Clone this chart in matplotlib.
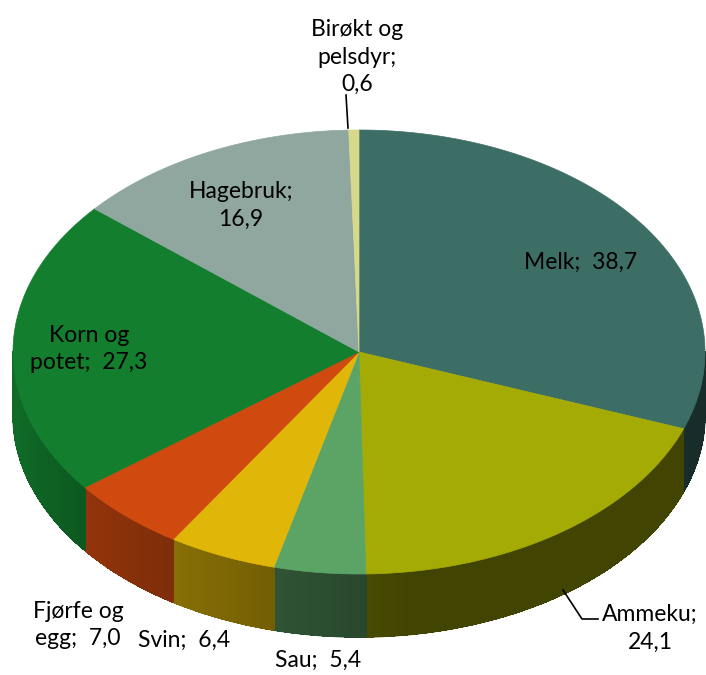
import numpy as np
import matplotlib.pyplot as plt
from matplotlib import colors as mcolors
from matplotlib.collections import PolyCollection, LineCollection

# data (clockwise from 12 o'clock)
labels = ["Melk", "Ammeku", "Sau", "Svin", "Fjørfe og\negg", "Korn og\npotet", "Hagebruk", "Birøkt og\npelsdyr"]
values = [38.7, 24.1, 5.4, 6.4, 7.0, 27.3, 16.9, 0.6]
top_colors = ["#3d6e66", "#a5ab05", "#5ca366", "#e0b708", "#d04a10", "#127e2e", "#8fa79f", "#d6d88a"]

# geometry of the tilted pie, in pixel units
cx, cy = 359, 352
ra, rb = 346, 222
depth = 63


def pt(theta_deg, dy=0.0):
    t = np.radians(theta_deg)
    return cx + ra * np.sin(t), cy - rb * np.cos(t) + dy


def shade(col, f):
    r, g, b = mcolors.to_rgb(col)
    return (r * f, g * f, b * f)


def wall_factor(theta):
    return 0.4 + 0.45 * np.clip((theta - 172) / 88.0, 0, 1)


fig = plt.figure(figsize=(7.06, 6.75), dpi=100)
ax = fig.add_axes([0, 0, 1, 1])
ax.set_xlim(0, 706)
ax.set_ylim(675, 0)
ax.axis("off")

total = sum(values)
bounds = np.concatenate([[0], np.cumsum(values)]) / total * 360.0

# side walls (front half only), drawn as thin shaded strips
quads, qcols, segs = [], [], []
for i, col in enumerate(top_colors):
    t0, t1 = max(bounds[i], 90), min(bounds[i + 1], 270)
    if t1 <= t0:
        continue
    steps = np.linspace(t0, t1, int((t1 - t0) * 3) + 2)
    for a, b in zip(steps[:-1], steps[1:]):
        x0, y0 = pt(a)
        x1, y1 = pt(b)
        c = shade(col, wall_factor((a + b) / 2))
        quads.append([(x0, y0), (x1, y1), (x1, y1 + depth), (x0, y0 + depth)])
        qcols.append(c)
        segs.append([(x0, y0 + depth), (x1, y1 + depth)])
ax.add_collection(PolyCollection(quads, facecolors=qcols, edgecolors=qcols,
                                 linewidths=0.3, antialiaseds=False, zorder=1))
ax.add_collection(LineCollection(segs, colors=qcols, linewidths=1.0, zorder=2))

# top faces
for i, col in enumerate(top_colors):
    th = np.linspace(bounds[i], bounds[i + 1], 200)
    xs = [cx] + [pt(t)[0] for t in th]
    ys = [cy] + [pt(t)[1] for t in th]
    ax.fill(xs, ys, color=col, lw=0.5, ec=col, zorder=3)

# labels
fs = 16.5
fam = ["Lato", "DejaVu Sans"]


def lab(x, y, s):
    ax.text(x, y, s, ha="center", va="center", fontsize=fs, family=fam,
            linespacing=1.4, zorder=5)


lab(357, 57, "Birøkt og\npelsdyr;\n0,6")
ax.plot([346, 348], [95, 128], color="black", lw=1.2, zorder=4)
lab(241, 205, "Hagebruk;\n16,9")
lab(581, 262, "Melk;  38,7")
lab(89, 349, "Korn og\npotet;  27,3")
lab(650, 628, "Ammeku;\n24,1")
ax.plot([563, 582, 598], [590, 619, 619], color="black", lw=1.2, zorder=4)
lab(318, 660, "Sau;  5,4")
lab(184, 640, "Svin;  6,4")
lab(78, 625, "Fjørfe og\negg;  7,0")

fig.savefig("out.png", dpi=100, facecolor="white")
